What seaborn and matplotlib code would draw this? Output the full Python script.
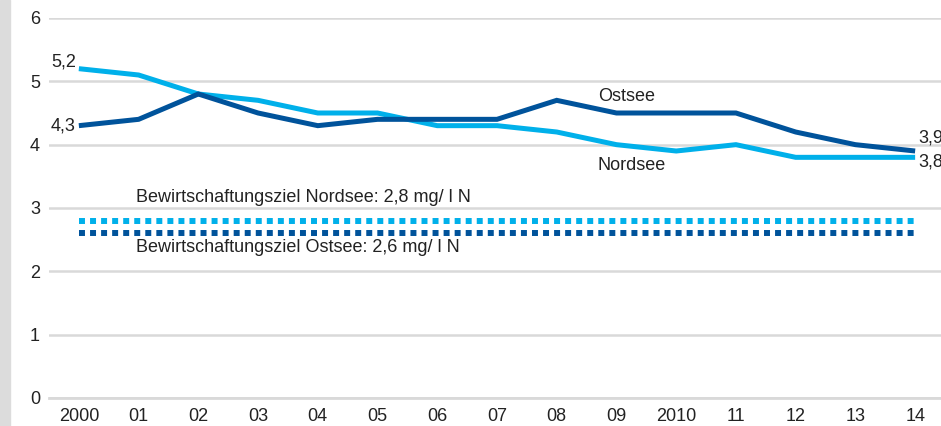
import matplotlib
matplotlib.use("Agg")
import matplotlib.pyplot as plt
import seaborn as sns
import pandas as pd
import numpy as np

years = ["2000", "01", "02", "03", "04", "05", "06", "07", "08", "09",
         "2010", "11", "12", "13", "14"]
nordsee = [5.2, 5.1, 4.8, 4.7, 4.5, 4.5, 4.3, 4.3, 4.2, 4.0, 3.9, 4.0, 3.8, 3.8, 3.8]
ostsee = [4.3, 4.4, 4.8, 4.5, 4.3, 4.4, 4.4, 4.4, 4.7, 4.5, 4.5, 4.5, 4.2, 4.0, 3.9]
ziel_nordsee = 2.8
ziel_ostsee = 2.6

c_nord = "#00b0ea"
c_ost = "#00539b"
grid_c = "#d9d9d9"
txt_c = "#222222"

sns.set_theme(style="white")
plt.rcParams["font.family"] = ["Liberation Sans", "DejaVu Sans"]

idx = np.arange(len(years))
df = pd.DataFrame({
    "idx": np.concatenate([idx, idx]),
    "wert": nordsee + ostsee,
    "meer": ["Nordsee"] * len(years) + ["Ostsee"] * len(years),
})
ziel = pd.DataFrame({
    "idx": np.concatenate([idx, idx]),
    "wert": [ziel_nordsee] * len(years) + [ziel_ostsee] * len(years),
    "meer": ["Nordsee"] * len(years) + ["Ostsee"] * len(years),
})

fig = plt.figure(figsize=(9.41, 4.26), dpi=100)
fig.patches.append(plt.Rectangle((0, 0), 10 / 941, 1, transform=fig.transFigure,
                                 color="#dcdcdc", zorder=0))
ax = fig.add_axes([49 / 941, 28 / 426, 896 / 941, 380 / 426])

pal = {"Nordsee": c_nord, "Ostsee": c_ost}
sns.lineplot(data=ziel, x="idx", y="wert", hue="meer", palette=pal, ax=ax,
             legend=False, linewidth=4.3)
for ln in ax.get_lines():
    ln.set_dashes((1, 0.85))
    ln.set_dash_capstyle("butt")
sns.lineplot(data=df, x="idx", y="wert", hue="meer", palette=pal, ax=ax,
             legend=False, linewidth=3.6)
for ln in ax.get_lines()[2:]:
    ln.set_solid_capstyle("butt")
    ln.set_solid_joinstyle("miter")

fs = 13
ax.set_xlim(-0.5, len(years) - 0.5)
ax.set_ylim(0, 6)
ax.set_yticks(range(0, 7))
ax.set_yticklabels([str(v) for v in range(0, 7)])
ax.set_xticks(idx)
ax.set_xticklabels(years)
ax.set_xticks(np.arange(-0.5, len(years)), minor=True)
ax.tick_params(axis="x", which="major", length=0, pad=7, labelsize=fs, labelcolor=txt_c)
ax.tick_params(axis="x", which="minor", length=5, width=1.5, color=grid_c, direction="out")
ax.tick_params(axis="y", length=0, pad=6.5, labelsize=fs, labelcolor=txt_c)
ax.set_xlabel("")
ax.set_ylabel("")
ax.yaxis.grid(True, color=grid_c, linewidth=1.8)
ax.set_axisbelow(True)
for s in ["top", "right", "left"]:
    ax.spines[s].set_visible(False)
ax.spines["bottom"].set_color(grid_c)
ax.spines["bottom"].set_linewidth(2)


def fmt(v):
    return f"{v:.1f}".replace(".", ",")


ax.text(-0.05, nordsee[0] + 0.11, fmt(nordsee[0]), ha="right",
        va="center", fontsize=fs, color=txt_c)
ax.text(-0.05, ostsee[0], fmt(ostsee[0]), ha="right",
        va="center", fontsize=fs, color=txt_c)
last = len(years) - 1
ax.text(last + 0.05, ostsee[-1] + 0.21, fmt(ostsee[-1]), ha="left",
        va="center", fontsize=fs, color=txt_c)
ax.text(last + 0.05, nordsee[-1] - 0.08, fmt(nordsee[-1]), ha="left",
        va="center", fontsize=fs, color=txt_c)
ax.text(9.17, 4.76, "Ostsee", ha="center", va="center", fontsize=fs, color=txt_c)
ax.text(9.25, 3.67, "Nordsee", ha="center", va="center", fontsize=fs, color=txt_c)
ax.text(0.95, 3.17, "Bewirtschaftungsziel Nordsee: 2,8 mg/ l N", ha="left",
        va="center", fontsize=fs, color=txt_c)
ax.text(0.95, 2.38, "Bewirtschaftungsziel Ostsee: 2,6 mg/ l N", ha="left",
        va="center", fontsize=fs, color=txt_c)

fig.savefig("out.png", dpi=100)
